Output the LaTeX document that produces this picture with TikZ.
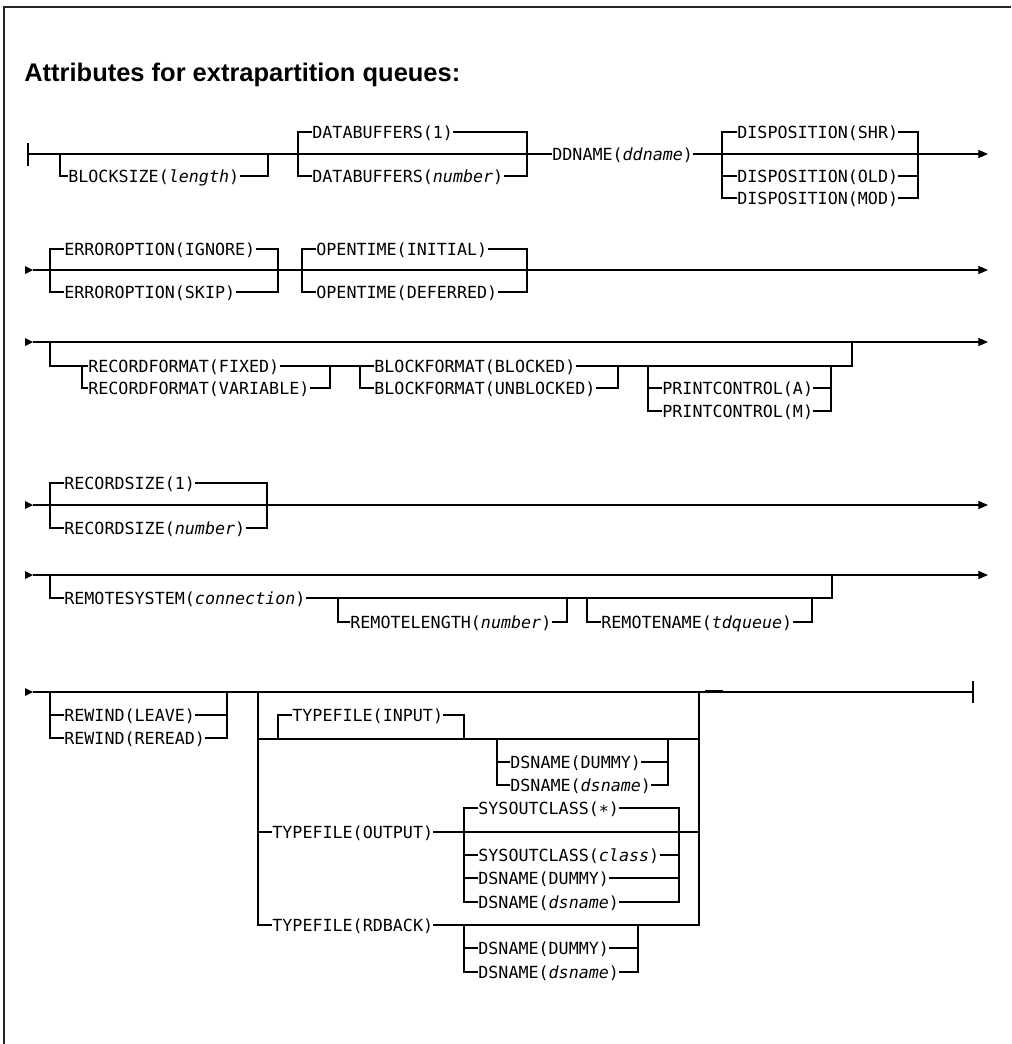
\documentclass[tikz,border=0pt]{standalone}
\usepackage{fontspec}
\usetikzlibrary{arrows.meta}
\newfontfamily\railfont{DejaVu Sans Mono}
\newfontfamily\headfont{Liberation Sans}
\newcommand{\prm}[1]{\textit{#1}}
\newcommand{\startmark}[1]{\fill (#1) ++(-8,-4) -- ++(8,4) -- ++(-8,4) -- cycle;}

\begin{document}
\begin{tikzpicture}[x=0.02cm, y=-0.02cm,
  rail/.style={line width=0.7pt},
  go/.style={rail, -{Triangle[length=5.5pt, width=4.6pt]}},
  kw/.style={font=\railfont\fontsize{9.5pt}{11pt}\selectfont, anchor=west,
    inner xsep=0pt, inner ysep=0pt, text height=6.9pt, text depth=0pt}]
  \useasboundingbox (0,0) rectangle (1011,1044);
  % Frame and heading
  \draw[line width=1pt, black!85] (4,1044) -- (4,7) -- (1011,7);
  \node[font=\headfont\bfseries\fontsize{14.5pt}{17pt}\selectfont, anchor=base west, inner sep=0pt] (title) at (24,82) {Attributes for extrapartition queues:};

  % Row 1: BLOCKSIZE, DATABUFFERS, DDNAME, DISPOSITION
  \coordinate (r1s) at (28,154);
  \coordinate (r1e) at (988,154);
  \draw[rail] (28,143) -- (28,166);
  \node[kw] (blk) at (68,176) {BLOCKSIZE(\prm{length})};
  \node[kw] (db1) at (312,132) {DATABUFFERS(1)};
  \node[kw] (db2) at (312,176) {DATABUFFERS(\prm{number})};
  \node[kw] (dd) at (552,154) {DDNAME(\prm{ddname})};
  \node[kw] (ds1) at (737,132) {DISPOSITION(SHR)};
  \node[kw] (ds2) at (737,176) {DISPOSITION(OLD)};
  \node[kw] (ds3) at (737,198) {DISPOSITION(MOD)};
  \draw[rail] (r1s) -- (dd);
  \draw[go] (dd) -- (r1e);
  \draw[rail] (60,154) |- (blk.west);
  \draw[rail] (blk.east) -| (268,154);
  \draw[rail] (db1.west) -| (298,154) |- (db2.west);
  \draw[rail] (db1.east) -| (527,154) |- (db2.east);
  \draw[rail] (ds1.west) -| (722,198) -- (ds3.west);
  \draw[rail] (722,176) -- (ds2.west);
  \draw[rail] (ds1.east) -| (918,198) -- (ds3.east);
  \draw[rail] (918,176) -- (ds2.east);

  % Row 2: ERROROPTION, OPENTIME
  \coordinate (r2s) at (33,270);
  \coordinate (r2e) at (988,270);
  \startmark{r2s}
  \draw[go] (r2s) -- (r2e);
  \node[kw] (eo1) at (64,249) {ERROROPTION(IGNORE)};
  \node[kw] (eo2) at (64,292) {ERROROPTION(SKIP)};
  \node[kw] (ot1) at (316,249) {OPENTIME(INITIAL)};
  \node[kw] (ot2) at (316,292) {OPENTIME(DEFERRED)};
  \draw[rail] (eo1.west) -| (50,292) -- (eo2.west);
  \draw[rail] (eo1.east) -| (278,292) -- (eo2.east);
  \draw[rail] (ot1.west) -| (302,292) -- (ot2.west);
  \draw[rail] (ot1.east) -| (527,292) -- (ot2.east);

  % Row 3: RECORDFORMAT, BLOCKFORMAT, PRINTCONTROL
  \coordinate (r3s) at (33,342);
  \coordinate (r3e) at (988,342);
  \startmark{r3s}
  \draw[go] (r3s) -- (r3e);
  \node[kw] (rf1) at (88,366) {RECORDFORMAT(FIXED)};
  \node[kw] (rf2) at (88,388) {RECORDFORMAT(VARIABLE)};
  \node[kw] (bf1) at (374,366) {BLOCKFORMAT(BLOCKED)};
  \node[kw] (bf2) at (374,388) {BLOCKFORMAT(UNBLOCKED)};
  \node[kw] (pc1) at (662,388) {PRINTCONTROL(A)};
  \node[kw] (pc2) at (662,411) {PRINTCONTROL(M)};
  \draw[rail] (50,342) |- (rf1.west);
  \draw[rail] (82,366) |- (rf2.west);
  \draw[rail] (rf1.east) -| (330,388) -- (rf2.east);
  \draw[rail] (330,366) -- (bf1.west);
  \draw[rail] (360,366) |- (bf2.west);
  \draw[rail] (bf1.east) -| (618,388) -- (bf2.east);
  \draw[rail] (618,366) -| (852,342);
  \draw[rail] (648,366) |- (pc2.west) (648,388) -- (pc1.west);
  \draw[rail] (831,366) |- (pc2.east) (831,388) -- (pc1.east);

  % Row 4: RECORDSIZE
  \coordinate (r4s) at (33,505);
  \coordinate (r4e) at (988,505);
  \startmark{r4s}
  \draw[go] (r4s) -- (r4e);
  \node[kw] (rs1) at (64,483) {RECORDSIZE(1)};
  \node[kw] (rs2) at (64,528) {RECORDSIZE(\prm{number})};
  \draw[rail] (rs1.west) -| (50,528) -- (rs2.west);
  \draw[rail] (rs1.east) -| (267,528) -- (rs2.east);

  % Row 5: REMOTESYSTEM, REMOTELENGTH, REMOTENAME
  \coordinate (r5s) at (33,575);
  \coordinate (r5e) at (988,575);
  \startmark{r5s}
  \draw[go] (r5s) -- (r5e);
  \node[kw] (rsy) at (64,598) {REMOTESYSTEM(\prm{connection})};
  \node[kw] (rl) at (350,622) {REMOTELENGTH(\prm{number})};
  \node[kw] (rn) at (601,622) {REMOTENAME(\prm{tdqueue})};
  \draw[rail] (50,575) |- (rsy.west);
  \draw[rail] (rsy.east) -| (832,575);
  \draw[rail] (338,598) |- (rl.west);
  \draw[rail] (rl.east) -| (567,598);
  \draw[rail] (587,598) |- (rn.west);
  \draw[rail] (rn.east) -| (812,598);

  % Row 6: REWIND, TYPEFILE
  \coordinate (r6s) at (33,692);
  \coordinate (r6e) at (973,692);
  \startmark{r6s}
  \draw[rail] (r6s) -- (r6e);
  \draw[rail] (973,681) -- (973,703);
  \draw[line width=1pt] (705,690.5) -- (723,690.5);
  \node[kw] (rw1) at (64,715) {REWIND(LEAVE)};
  \node[kw] (rw2) at (64,738) {REWIND(REREAD)};
  \draw[rail] (50,692) |- (rw2.west) (50,715) -- (rw1.west);
  \draw[rail] (227,692) |- (rw2.east) (227,715) -- (rw1.east);
  \node[kw] (tf1) at (292,715) {TYPEFILE(INPUT)};
  \node[kw] (tf2) at (272,832) {TYPEFILE(OUTPUT)};
  \node[kw] (tf3) at (272,925) {TYPEFILE(RDBACK)};
  \draw[rail] (258,692) |- (tf3.west) (258,832) -- (tf2.west);
  \draw[rail] (258,739) -- (699,739);
  \draw[rail] (tf1.west) -| (278,739);
  \draw[rail] (tf1.east) -| (464,739);
  \draw[rail] (tf2.east) -- (699,832);
  \draw[rail] (tf3.east) -| (699,692);
  % input data set
  \node[kw] (in1) at (510,762) {DSNAME(DUMMY)};
  \node[kw] (in2) at (510,785) {DSNAME(\prm{dsname})};
  \draw[rail] (497,739) |- (in2.west) (497,762) -- (in1.west);
  \draw[rail] (668,739) |- (in2.east) (668,762) -- (in1.east);
  % output class or data set
  \node[kw] (so1) at (478,808) {SYSOUTCLASS(\raisebox{-0.2em}{*})};
  \node[kw] (so2) at (478,855) {SYSOUTCLASS(\prm{class})};
  \node[kw] (so3) at (478,878) {DSNAME(DUMMY)};
  \node[kw] (so4) at (478,902) {DSNAME(\prm{dsname})};
  \draw[rail] (so1.west) -| (464,902) -- (so4.west);
  \draw[rail] (464,855) -- (so2.west) (464,878) -- (so3.west);
  \draw[rail] (so1.east) -| (679,902) -- (so4.east);
  \draw[rail] (679,855) -- (so2.east) (679,878) -- (so3.east);
  % rdback data set
  \node[kw] (rb1) at (478,948) {DSNAME(DUMMY)};
  \node[kw] (rb2) at (478,972) {DSNAME(\prm{dsname})};
  \draw[rail] (464,925) |- (rb2.west) (464,948) -- (rb1.west);
  \draw[rail] (638,925) |- (rb2.east) (638,948) -- (rb1.east);
\end{tikzpicture}
\end{document}
